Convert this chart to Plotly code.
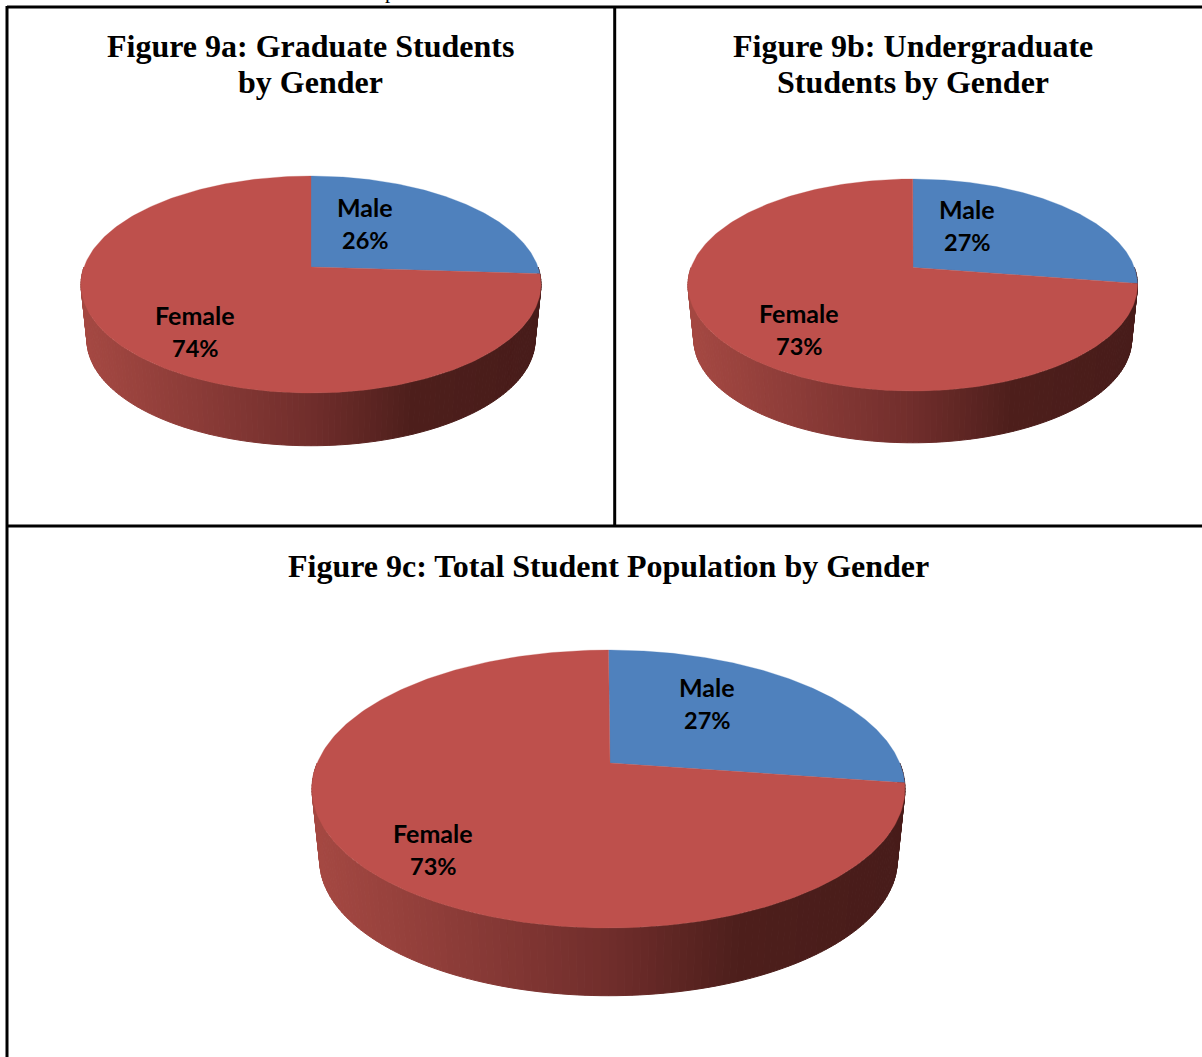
import numpy as np
import plotly.graph_objects as go

# ---- data ----
categories = ["Male", "Female"]
graduate = [26, 74]
undergraduate = [27.4, 72.6]
total = [27.3, 72.7]
title_a = ["Figure 9a: Graduate Students", "by Gender"]
title_b = ["Figure 9b: Undergraduate", "Students by Gender"]
title_c = ["Figure 9c: Total Student Population by Gender"]

# ---- layout of the page (pixels) ----
W, H = 1202, 1057
BLUE, RED = "#4F81BD", "#BE504C"
SIDE_STOPS = [(0.0, (166, 73, 67)), (0.25, (140, 60, 56)), (0.5, (113, 46, 44)),
              (0.72, (78, 31, 28)), (1.0, (72, 28, 26))]


def frame(ax, ay, left, right, top, bottom):
    """Projective map of a unit disc on to the tilted ellipse."""
    up, down = ay - top, bottom - ay
    k = (down - up) / (down + up)
    return dict(cx=(left + right) / 2, ax=ax, cy=ay, k=k, B=up * (1 + k),
                A=(right - left) / 2 * np.sqrt(1 - k * k))


def project(g, theta, scale=1.0, drop=0.0):
    u, v = np.sin(theta), np.cos(theta)
    w = 1 + g["k"] * v
    return (g["cx"] + scale * g["A"] * u / w,
            g["cy"] + drop - scale * g["B"] * v / w)


def side_colour(t):
    ts = [s[0] for s in SIDE_STOPS]
    rgb = [int(np.interp(t, ts, [s[1][i] for s in SIDE_STOPS])) for i in range(3)]
    return "rgb(%d,%d,%d)" % tuple(rgb)


fig = go.Figure()


def add_pie(values, g, depth, shrink, left, right):
    # side wall, as vertical strips shaded from left to right
    edges = np.linspace(np.pi / 2, 3 * np.pi / 2, 141)
    for a, b in zip(edges[:-1], edges[1:]):
        th = np.array([a, b])
        x1, y1 = project(g, th)
        x2, y2 = project(g, th[::-1], shrink, depth)
        xs = np.r_[x1, x2, x1[0]]
        ys = np.r_[y1, y2, y1[0]]
        t = (xs.mean() - left) / (right - left)
        c = side_colour(t)
        fig.add_trace(go.Scatter(x=xs, y=ys, mode="lines", fill="toself", fillcolor=c,
                                 line=dict(color=c, width=1), hoverinfo="skip"))
    # top face, one wedge per value
    total_v = sum(values)
    start = 0.0
    for v, colour in zip(values, [BLUE, RED]):
        end = start + v / total_v * 2 * np.pi
        th = np.linspace(start, end, 240)
        x, y = project(g, th)
        fig.add_trace(go.Scatter(x=np.r_[g["ax"], x, g["ax"]], y=np.r_[g["cy"], y, g["cy"]],
                                 mode="lines", fill="toself", fillcolor=colour,
                                 line=dict(color=colour, width=0.3), hoverinfo="skip"))
        start = end


PIES = [
    (graduate, frame(311, 267, 81, 541, 176, 393), 56, 0.974, 81, 541,
     [(365, 207, 240), (195, 315, 348)]),
    (undergraduate, frame(913, 267.5, 688, 1137.5, 179, 391), 55, 0.974, 688, 1138,
     [(967, 209, 242), (799, 313, 346)]),
    (total, frame(610, 763, 312, 905, 650, 928), 72, 0.974, 312, 905,
     [(707, 687, 720), (433, 833, 866)]),
]

annotations = []


def label(x, y, text, size, family, bold=True):
    annotations.append(dict(x=x, y=y, xref="x", yref="y", text="<b>%s</b>" % text if bold else text,
                            showarrow=False, xanchor="center", yanchor="middle",
                            font=dict(family=family, size=size, color="#000000")))


for values, g, depth, shrink, left, right, spots in PIES:
    add_pie(values, g, depth, shrink, left, right)
    for cat, v, (lx, ly1, ly2) in zip(categories, values, spots):
        label(lx, ly1, cat, 25, "Lato")
        label(lx, ly2, "%d%%" % round(v), 23.5, "Lato")

SERIF = "Liberation Serif"
for i, line in enumerate(title_a):
    label(310.5, 46 + 36 * i, line, 32, SERIF)
for i, line in enumerate(title_b):
    label(913, 46 + 36 * i, line, 32, SERIF)
label(608.5, 566, title_c[0], 32, SERIF)

# clipped descender of the line of text above the table
annotations.append(dict(x=390, y=5, xref="x", yref="y", text="p", showarrow=False,
                        xanchor="center", yanchor="bottom",
                        font=dict(family=SERIF, size=21, color="#000000")))

# table rules
rule = dict(color="#000000", width=3)
shapes = [
    dict(type="line", xref="x", yref="y", x0=7, x1=W, y0=7, y1=7, line=rule),
    dict(type="line", xref="x", yref="y", x0=7, x1=7, y0=6, y1=H, line=rule),
    dict(type="line", xref="x", yref="y", x0=614.7, x1=614.7, y0=7, y1=526, line=rule),
    dict(type="line", xref="x", yref="y", x0=7, x1=W, y0=526, y1=526, line=rule),
]

fig.update_layout(
    width=W, height=H, margin=dict(l=0, r=0, t=0, b=0), showlegend=False,
    paper_bgcolor="white", plot_bgcolor="white",
    xaxis=dict(range=[0, W], visible=False, fixedrange=True),
    yaxis=dict(range=[H, 0], visible=False, fixedrange=True),
    annotations=annotations, shapes=shapes,
)

fig.write_html("out.html", config={"displayModeBar": False},
               post_script="document.body.style.margin='0';document.documentElement.style.overflow='hidden';")
